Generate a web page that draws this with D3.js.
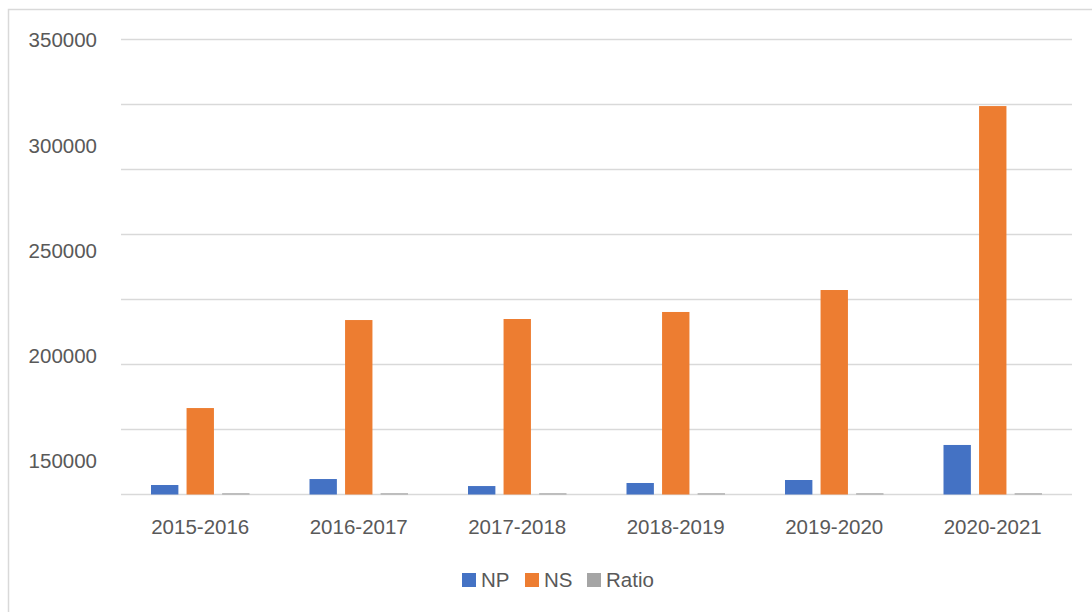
<!DOCTYPE html>
<html>
<head>
  <meta charset="utf-8">
  <title>NP / NS / Ratio</title>
  <script src="https://d3js.org/d3.v7.min.js"></script>
  <style>
    body {
      margin: 0;
      padding: 0;
      background: white;
      font-family: "Liberation Sans", Arial, sans-serif;
    }
    .grid line {
      stroke: #d9d9d9;
      stroke-width: 1.5;
    }
    text {
      fill: #595959;
      font-size: 20.5px;
    }
  </style>
</head>
<body>
  <div id="chart"></div>
  <script>

  // data
  var years = ["2015-2016", "2016-2017", "2017-2018", "2018-2019", "2019-2020", "2020-2021"]
  var seriesNames = ["NP", "NS", "Ratio"]
  var npValues = [7300, 11900, 6500, 8850, 11150, 38100]
  var nsValues = [66500, 134200, 135000, 140400, 157300, 298800]
  var ratioValues = [10.98, 8.87, 4.81, 6.30, 7.09, 12.75]
  var gridValues = [0, 50000, 100000, 150000, 200000, 250000, 300000, 350000]
  var tickLabels = [150000, 200000, 250000, 300000, 350000]

  var colors = ["#4472c4", "#ed7d31", "#a5a5a5"]

  var width = 1092,
      height = 612

  var svg = d3.select("#chart")
    .append("svg")
    .attr("width", width)
    .attr("height", height)

  // chart area border (runs off the right and bottom edges)
  svg.append("rect")
    .attr("x", 8.5)
    .attr("y", 9.5)
    .attr("width", 1200)
    .attr("height", 700)
    .attr("fill", "white")
    .attr("stroke", "#d9d9d9")
    .attr("stroke-width", 1.5)

  var x = d3.scaleBand()
    .domain(years)
    .range([121, 1072])
    .paddingInner(0)
    .paddingOuter(0)

  var xInner = d3.scaleBand()
    .domain(seriesNames)
    .range([30, x.bandwidth() - 30])
    .paddingInner(0.23)

  var y = d3.scaleLinear()
    .domain([0, 350000])
    .range([494.5, 39.5])

  // the labels sit on their own spacing, not on the gridlines
  var yLabel = d3.scaleLinear()
    .domain([150000, 350000])
    .range([461, 40])

  // gridlines
  svg.append("g")
    .attr("class", "grid")
    .selectAll("line")
    .data(gridValues)
    .enter().append("line")
    .attr("x1", 121)
    .attr("x2", 1072)
    .attr("y1", function (d) { return y(d) })
    .attr("y2", function (d) { return y(d) })

  // y labels
  svg.append("g")
    .selectAll("text")
    .data(tickLabels)
    .enter().append("text")
    .attr("x", 97)
    .attr("y", function (d) { return yLabel(d) })
    .attr("dy", "0.36em")
    .attr("text-anchor", "end")
    .text(function (d) { return d })

  // bars
  var table = years.map(function (yr, i) {
    return {year: yr, values: [npValues[i], nsValues[i], ratioValues[i]]}
  })

  var groups = svg.append("g")
    .selectAll("g")
    .data(table)
    .enter().append("g")
    .attr("transform", function (d) { return "translate(" + x(d.year) + ",0)" })

  groups.selectAll("rect")
    .data(function (d) {
      return d.values.map(function (v, j) { return {name: seriesNames[j], value: v, color: colors[j]} })
    })
    .enter().append("rect")
    .attr("x", function (d) { return xInner(d.name) })
    .attr("width", xInner.bandwidth())
    .attr("y", function (d) { return Math.min(y(d.value), y(0) - 1.2) })
    .attr("height", function (d) { return Math.max(y(0) - y(d.value), 1.2) })
    .attr("fill", function (d) { return d.color })

  // category labels
  svg.append("g")
    .selectAll("text")
    .data(years)
    .enter().append("text")
    .attr("x", function (d) { return x(d) + x.bandwidth() / 2 })
    .attr("y", 527)
    .attr("dy", "0.36em")
    .attr("text-anchor", "middle")
    .text(function (d) { return d })

  // legend
  var legendX = [462, 525, 587]
  var legend = svg.append("g")
    .selectAll("g")
    .data(seriesNames)
    .enter().append("g")
    .attr("transform", function (d, i) { return "translate(" + legendX[i] + ",573)" })

  legend.append("rect")
    .attr("width", 14)
    .attr("height", 14)
    .attr("fill", function (d, i) { return colors[i] })

  legend.append("text")
    .attr("x", 19)
    .attr("y", 7)
    .attr("dy", "0.36em")
    .text(function (d) { return d })

  </script>
</body>
</html>
